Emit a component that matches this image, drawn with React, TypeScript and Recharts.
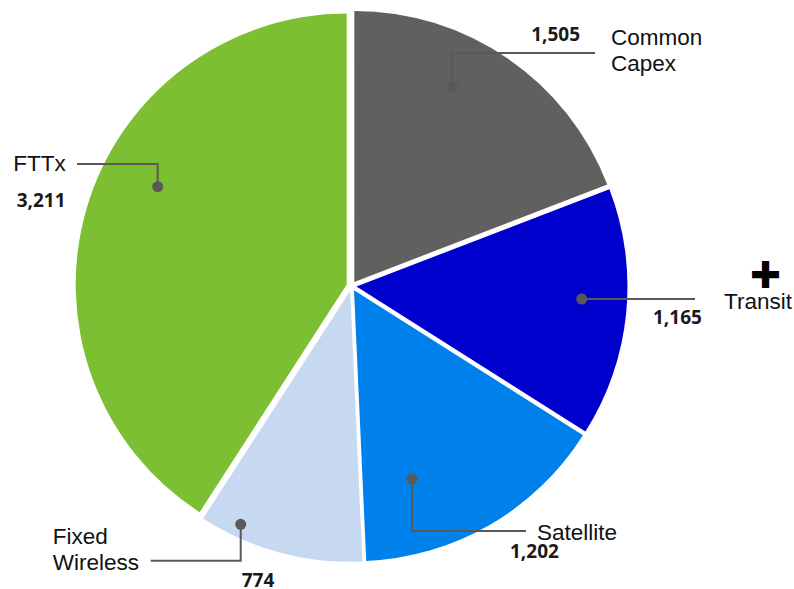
import React from 'react';
import { PieChart, Pie, Cell } from 'recharts';

const categories = ['Common Capex', 'Transit', 'Satellite', 'Fixed Wireless', 'FTTx'];
const values = [1505, 1165, 1202, 774, 3211];
const nameLines = [['Common', 'Capex'], ['Transit'], ['Satellite'], ['Fixed', 'Wireless'], ['FTTx']];
const colors = ['#606060', '#0000CC', '#0080EA', '#C6D9F1', '#7CBF33'];

const data = categories.map((name, i) => ({ name, value: values[i] }));

const W = 794;
const H = 589;
const CX = 351.5;
const CY = 286;
const R = 271;
const EXPLODE = 5;

const total = values.reduce((a, b) => a + b, 0);
const offsets = (() => {
  let cum = 0;
  return values.map((v) => {
    const mid = 90 - (360 * (cum + v / 2)) / total;
    cum += v;
    const rad = (mid * Math.PI) / 180;
    return { dx: EXPLODE * Math.cos(rad), dy: -EXPLODE * Math.sin(rad) };
  });
})();

// label layout, offsets relative to pie centre
type Layout = {
  dot: [number, number];
  path: [number, number][];
  name: { x: number; y: number; step: number };
  val: { x: number; y: number; anchor: 'start' | 'end' };
};
const layout: Layout[] = [
  { dot: [100.5, -199], path: [[100.5, -233], [243.5, -233]], name: { x: 259.5, y: -249, step: 26 }, val: { x: 228.5, y: -252.5, anchor: 'end' } },
  { dot: [230.2, 13], path: [[343.5, 13]], name: { x: 372.5, y: 15.7, step: 26 }, val: { x: 301.5, y: 31, anchor: 'start' } },
  { dot: [60.5, 193], path: [[60.5, 245], [174.5, 245]], name: { x: 185.5, y: 246.7, step: 26 }, val: { x: 158.5, y: 264.7, anchor: 'start' } },
  { dot: [-110.8, 238.3], path: [[-110.8, 274.7], [-200.8, 274.7]], name: { x: -298.8, y: 250.7, step: 26 }, val: { x: -109.8, y: 293.5, anchor: 'start' } },
  { dot: [-193.8, -99.3], path: [[-193.8, -122], [-274.5, -122]], name: { x: -338.2, y: -122.7, step: 26 }, val: { x: -334.8, y: -86, anchor: 'start' } },
];

const NAME_FONT = '"Liberation Sans", Arial, sans-serif';
const VAL_FONT = '"Open Sans", "DejaVu Sans", sans-serif';
const LINE = '#595959';

const fmt = (v: number) => v.toLocaleString('en-US');

const renderLabel = (props: any) => {
  const { cx, cy, index } = props;
  const L = layout[index];
  if (!L) return null;
  const pts = [L.dot, ...L.path].map(([x, y]) => `${cx + x},${cy + y}`).join(' ');
  return (
    <g key={`lbl-${index}`}>
      <polyline points={pts} fill="none" stroke={LINE} strokeWidth={2} />
      <circle cx={cx + L.dot[0]} cy={cy + L.dot[1]} r={5.5} fill={LINE} />
      {nameLines[index].map((t, k) => (
        <text
          key={k}
          x={cx + L.name.x}
          y={cy + L.name.y + k * L.name.step}
          fontFamily={NAME_FONT}
          fontSize={22.5}
          fill="#111"
          textAnchor="start"
          dominantBaseline="central"
        >
          {t}
        </text>
      ))}
      <text
        x={cx + L.val.x}
        y={cy + L.val.y}
        fontFamily={VAL_FONT}
        fontWeight={700}
        fontSize={19}
        fill="#1a1a1a"
        textAnchor={L.val.anchor}
        dominantBaseline="central"
      >
        {fmt(values[index])}
      </text>
      {index === 1 && (
        <text
          x={cx + 414}
          y={cy - 10.5}
          fontFamily='"DejaVu Sans", sans-serif'
          fontWeight={700}
          fontSize={37}
          fill="#000"
          textAnchor="middle"
          dominantBaseline="central"
        >
          {'\u271A'}
        </text>
      )}
    </g>
  );
};

export default function App() {
  return (
    <div style={{ position: 'absolute', left: 0, top: 0, width: W, height: H, background: '#fff' }}>
      <PieChart width={W} height={H} margin={{ top: 0, right: 0, bottom: 0, left: 0 }}>
        {data.map((_, k) => (
          <Pie
            key={`p${k}`}
            data={data}
            dataKey="value"
            nameKey="name"
            cx={CX + offsets[k].dx}
            cy={CY + offsets[k].dy}
            outerRadius={R}
            innerRadius={0}
            startAngle={90}
            endAngle={-270}
            stroke="none"
            isAnimationActive={false}
            labelLine={false}
          >
            {data.map((__, i) => (
              <Cell key={i} fill={i === k ? colors[i] : 'transparent'} stroke="none" />
            ))}
          </Pie>
        ))}
        <Pie
          data={data}
          dataKey="value"
          nameKey="name"
          cx={CX}
          cy={CY}
          outerRadius={R}
          startAngle={90}
          endAngle={-270}
          fill="transparent"
          stroke="none"
          isAnimationActive={false}
          labelLine={false}
          label={renderLabel}
        >
          {data.map((__, i) => (
            <Cell key={i} fill="transparent" stroke="none" />
          ))}
        </Pie>
      </PieChart>
    </div>
  );
}
